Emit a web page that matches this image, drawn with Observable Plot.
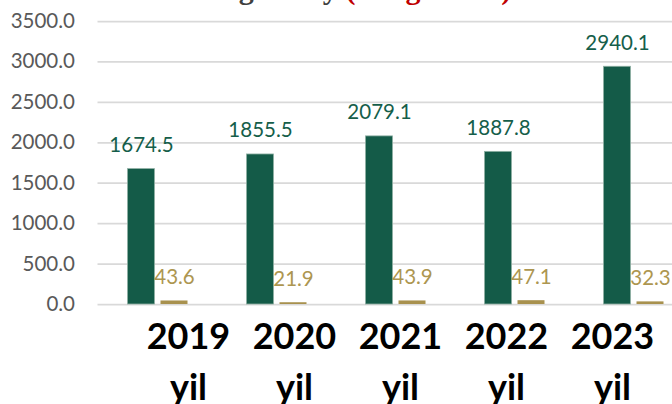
<!DOCTYPE html>
<html>
<head>
<meta charset="utf-8">
<script src="https://cdn.jsdelivr.net/npm/d3@7"></script>
<script src="https://cdn.jsdelivr.net/npm/@observablehq/plot@0.6"></script>
<style>
  html, body { margin: 0; padding: 0; background: #ffffff; overflow: hidden; }
  body { width: 672px; height: 404px; position: relative; }
  #title { position: absolute; left: 47px; top: -26px; font: bold 30px "Liberation Serif"; line-height: 30px; white-space: nowrap; color: #404040; }
  #title span { color: #c00000; }
  #chart { position: absolute; left: 0; top: 0; }
  #years { position: absolute; left: 0; top: 304px; }
  svg { max-width: none !important; }
</style>
</head>
<body>
<div id="title">Korxonalarning asosiy <span>(ming tonna)</span></div>
<div id="chart"></div>
<div id="years"></div>
<script>
const years = ["2019", "2020", "2021", "2022", "2023"];
const greenValues = [1674.5, 1855.5, 2079.1, 1887.8, 2940.1];
const goldValues = [43.6, 21.9, 43.9, 47.1, 32.3];
const yTicks = [0, 500, 1000, 1500, 2000, 2500, 3000, 3500];
const yearSuffix = "yil";

const green = years.map((year, i) => ({year, value: greenValues[i]}));
const gold = years.map((year, i) => ({year, value: goldValues[i]}));

const GREEN = "#145b48";
const GOLD = "#a8914e";

const chart = Plot.plot({
  width: 693,
  height: 404,
  marginLeft: 97.5,
  marginRight: 0.5,
  marginTop: 21,
  marginBottom: 100,
  style: {fontFamily: "Lato", fontSize: "20.5px", color: "#595959", background: "transparent"},
  x: {type: "band", domain: years, padding: 0, axis: null},
  y: {domain: [0, 3500], axis: null},
  marks: [
    Plot.ruleY(yTicks, {stroke: "#d9d9d9", strokeWidth: 1.75}),
    Plot.axisY(yTicks, {tickSize: 0, tickPadding: 23, tickFormat: d => d.toFixed(1), label: null, fill: "#595959", fontSize: 20.5}),
    Plot.barY(green, {x: "year", y: "value", insetLeft: 29.5, insetRight: 62.5, fill: GREEN, stroke: "#8fb0a4", strokeWidth: 0.8}),
    Plot.barY(gold, {x: "year", y: "value", insetLeft: 62.5, insetRight: 29.5, fill: GOLD}),
    Plot.text(green, {x: "year", y: "value", text: d => d.value.toFixed(1), dx: -16.5, dy: -17, lineAnchor: "bottom", fill: "#155e4a", fontSize: 20.5}),
    Plot.text(gold, {x: "year", y: "value", text: d => d.value.toFixed(1), dx: 16.5, dy: -17, lineAnchor: "bottom", fill: "#ad9650", fontSize: 20.5})
  ]
});
document.getElementById("chart").append(chart);

const labels = Plot.plot({
  width: 672,
  height: 100,
  marginLeft: 135,
  marginRight: 7,
  marginTop: 7.8,
  marginBottom: 0,
  style: {fontFamily: "Lato", background: "transparent"},
  x: {type: "band", domain: years, padding: 0, axis: null},
  marks: [
    Plot.text(years, {x: d => d, text: d => d + "\n" + yearSuffix, frameAnchor: "top", lineAnchor: "top", lineHeight: 1.417, fontSize: 36, fontWeight: "bold", fill: "#000000"})
  ]
});
document.getElementById("years").append(labels);
</script>
</body>
</html>
